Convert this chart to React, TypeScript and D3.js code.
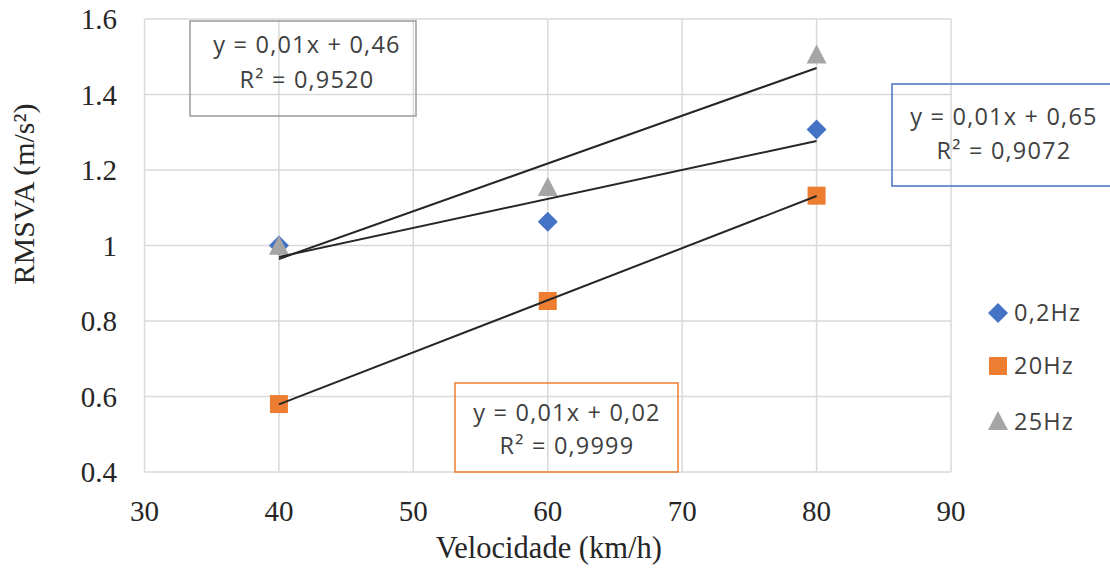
import * as d3 from "d3";

// Data
const speeds = [40, 60, 80];
const hz02 = [1.0, 1.063, 1.307];
const hz20 = [0.58, 0.853, 1.132];
const hz25 = [0.997, 1.152, 1.503];
const seriesNames = ["0,2Hz", "20Hz", "25Hz"];
const xTicks = [30, 40, 50, 60, 70, 80, 90];
const yTicks = [0.4, 0.6, 0.8, 1, 1.2, 1.4, 1.6];
const eq02 = ["y = 0,01x + 0,65", "R² = 0,9072"];
const eq20 = ["y = 0,01x + 0,02", "R² = 0,9999"];
const eq25 = ["y = 0,01x + 0,46", "R² = 0,9520"];

const W = 1110;
const H = 571;
const plot = { left: 144.5, right: 951, top: 19, bottom: 472 };

const blue = "#4472C4";
const orange = "#ED7D31";
const gray = "#A5A5A5";
const serif = "'Liberation Serif', 'Times New Roman', serif";
const sans = "'Open Sans', sans-serif";

function fit(xs: number[], ys: number[]) {
  const mx = d3.mean(xs)!;
  const my = d3.mean(ys)!;
  const sxy = d3.sum(xs, (x, i) => (x - mx) * (ys[i] - my));
  const sxx = d3.sum(xs, (x) => (x - mx) ** 2);
  const b = sxy / sxx;
  return (x: number) => my + b * (x - mx);
}

function Marker({ kind, x, y, color }: { kind: string; x: number; y: number; color: string }) {
  if (kind === "diamond") {
    const r = 10;
    return <path d={`M${x},${y - r}L${x + r},${y}L${x},${y + r}L${x - r},${y}Z`} fill={color} />;
  }
  if (kind === "square") {
    const s = 18;
    return <rect x={x - s / 2} y={y - s / 2} width={s} height={s} fill={color} />;
  }
  return <path d={`M${x},${y - 11}L${x + 10},${y + 8}L${x - 10},${y + 8}Z`} fill={color} />;
}

export default function App() {
  const x = d3.scaleLinear().domain([30, 90]).range([plot.left, plot.right]);
  const y = d3.scaleLinear().domain([0.4, 1.6]).range([plot.bottom, plot.top]);

  const series = [
    { name: seriesNames[0], values: hz02, color: blue, kind: "diamond" },
    { name: seriesNames[1], values: hz20, color: orange, kind: "square" },
    { name: seriesNames[2], values: hz25, color: gray, kind: "triangle" },
  ];

  // equation label boxes (layout only)
  const boxes = [
    { lines: eq25, color: "#9a9a9a", x: 190, y: 21, w: 226, h: 95, cx: 307, l1: 45, l2: 80 },
    { lines: eq02, color: blue, x: 892, y: 84, w: 226, h: 102, cx: 1004, l1: 117, l2: 151 },
    { lines: eq20, color: orange, x: 455, y: 383, w: 223, h: 89, cx: 567, l1: 413, l2: 446 },
  ];

  const x0 = speeds[0];
  const x1 = speeds[speeds.length - 1];

  return (
    <svg width={W} height={H} style={{ position: "absolute", left: 0, top: 0, background: "#fff" }}>
      {/* grid */}
      {xTicks.map((t) => (
        <line key={"gx" + t} x1={x(t)} x2={x(t)} y1={plot.top} y2={plot.bottom} stroke="#D9D9D9" strokeWidth={1.5} />
      ))}
      {yTicks.map((t) => (
        <line key={"gy" + t} x1={plot.left} x2={plot.right} y1={y(t)} y2={y(t)} stroke="#D9D9D9" strokeWidth={1.5} />
      ))}

      {/* tick labels */}
      {yTicks.map((t) => (
        <text key={"ty" + t} x={117} y={y(t)} dy="0.35em" textAnchor="end" fontFamily={serif} fontSize={29} fill="#262626">
          {String(t)}
        </text>
      ))}
      {xTicks.map((t) => (
        <text key={"tx" + t} x={x(t)} y={511} dy="0.35em" textAnchor="middle" fontFamily={serif} fontSize={29} fill="#262626">
          {t}
        </text>
      ))}

      {/* axis titles */}
      <text x={(plot.left + plot.right) / 2 + 1} y={558} textAnchor="middle" fontFamily={serif} fontSize={30.5} fill="#262626">
        Velocidade (km/h)
      </text>
      <text
        transform={`translate(34,194) rotate(-90)`}
        textAnchor="middle"
        fontFamily={serif}
        fontSize={30}
        fill="#262626"
      >
        RMSVA (m/s²)
      </text>

      {/* markers */}
      {series.map((s) =>
        s.values.map((v, i) => (
          <Marker key={s.name + i} kind={s.kind} x={x(speeds[i])} y={y(v)} color={s.color} />
        ))
      )}

      {/* trendlines */}
      {series.map((s) => {
        const f = fit(speeds, s.values);
        return (
          <line
            key={"tr" + s.name}
            x1={x(x0)}
            y1={y(f(x0))}
            x2={x(x1)}
            y2={y(f(x1))}
            stroke="#262626"
            strokeWidth={2}
          />
        );
      })}

      {/* equation boxes */}
      {boxes.map((b, i) => (
        <g key={"box" + i}>
          <rect x={b.x} y={b.y} width={b.w} height={b.h} fill="none" stroke={b.color} strokeWidth={1.5} />
          <text x={b.cx} y={b.l1} dy="0.35em" textAnchor="middle" fontFamily={sans} fontSize={23.5} letterSpacing={1.2} fill="#404040">
            {b.lines[0]}
          </text>
          <text x={b.cx} y={b.l2} dy="0.35em" textAnchor="middle" fontFamily={sans} fontSize={23.5} letterSpacing={1.2} fill="#404040">
            {b.lines[1]}
          </text>
        </g>
      ))}

      {/* legend */}
      {series.map((s, i) => {
        const ly = [313, 366, 422][i];
        return (
          <g key={"lg" + s.name}>
            <Marker kind={s.kind} x={998} y={ly} color={s.color} />
            <text x={1014} y={ly} dy="0.35em" fontFamily={sans} fontSize={23.5} letterSpacing={1.2} fill="#404040">
              {s.name}
            </text>
          </g>
        );
      })}
    </svg>
  );
}
